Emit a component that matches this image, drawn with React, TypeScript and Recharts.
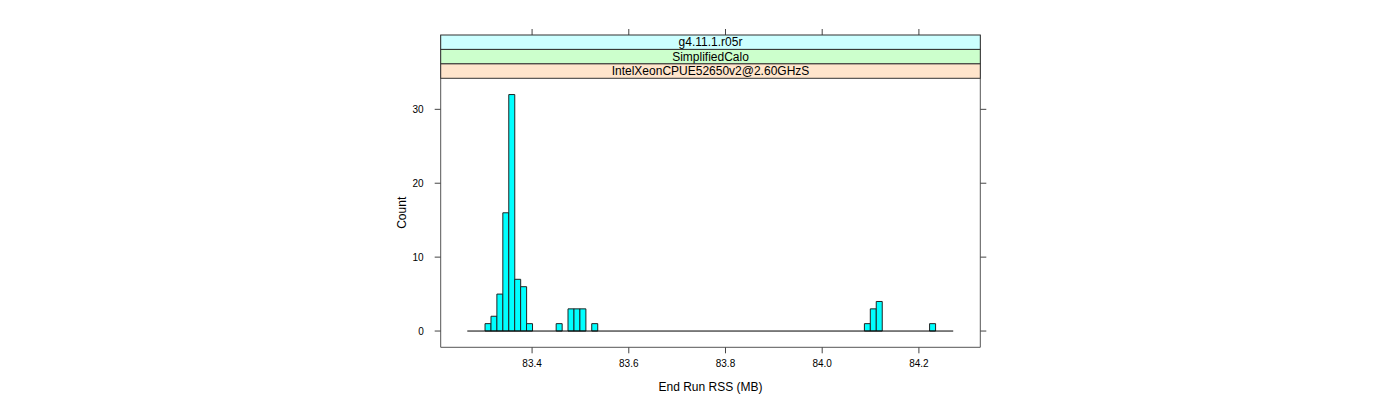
// Histogram of end-run RSS in the style of a lattice panel with three strips. Recharts.

import { Bar, ComposedChart, Label, ReferenceLine, XAxis, YAxis } from "recharts";

// bin mid-points (MB) of the non-empty bins and their counts
const binMid = [
  83.3088, 83.3211, 83.3333, 83.3456, 83.3579, 83.3701, 83.3824, 83.3946,
  83.4559, 83.4804, 83.4927, 83.505, 83.5295,
  84.0934, 84.1056, 84.1179, 84.2282,
];
const counts = [1, 2, 5, 16, 32, 7, 6, 1, 1, 3, 3, 3, 1, 1, 3, 4, 1];
const breaksRange = [83.266, 84.271];

const xTicks = [83.4, 83.6, 83.8, 84.0, 84.2];
const yTicks = [0, 10, 20, 30];
const xLim = [83.211, 84.327];
const yLim = [-2.2, 34.2];

const stripLabels = ["g4.11.1.r05r", "SimplifiedCalo", "IntelXeonCPUE52650v2@2.60GHzS"];
const stripColors = ["#CCFFFF", "#CCFFCC", "#FFE5CC"];

const W = 1400;
const H = 400;
const PANEL_L = 440.7;
const PANEL_R = 980.3;
const PANEL_T = 35;
const PANEL_B = 347.3;
const STRIP_H = 14.43;
const STRIPS = STRIP_H * stripLabels.length;
const TICK = 6;
const FONT = "'Liberation Sans', Arial, Helvetica, sans-serif";
const BOX = "#555";

// the strips sit inside the axis box, so the y domain is stretched upward by their height
const yPerPx = (yLim[1] - yLim[0]) / (PANEL_B - PANEL_T - STRIPS);
const yDomain = [yLim[0], yLim[1] + STRIPS * yPerPx];

const data = binMid.map((mid, i) => ({ mid, count: counts[i] }));

// tick marks without labels (right side)
const NoLabel = () => <g />;

function Strips() {
  const w = PANEL_R - PANEL_L;
  return (
    <svg
      width={W}
      height={H}
      style={{ position: "absolute", left: 0, top: 0, pointerEvents: "none" }}
    >
      {stripLabels.map((s, i) => {
        const y = PANEL_T + i * STRIP_H;
        return (
          <g key={s}>
            <rect x={PANEL_L} y={y} width={w} height={STRIP_H} fill={stripColors[i]} stroke="#333" strokeWidth={1} />
            <text
              x={PANEL_L + w / 2}
              y={y + STRIP_H / 2 + 4.2}
              textAnchor="middle"
              fontSize={12}
              fontFamily={FONT}
              fill="#000"
            >
              {s}
            </text>
          </g>
        );
      })}
    </svg>
  );
}

export default function App() {
  return (
    <div style={{ position: "absolute", left: 0, top: 0, width: W, height: H, background: "#fff" }}>
      <ComposedChart
        width={W}
        height={H}
        data={data}
        margin={{ top: PANEL_T, right: 0, bottom: 0, left: 0 }}
        barCategoryGap={0}
        barGap={0}
        style={{ fontFamily: FONT }}
      >
        <XAxis
          xAxisId="bottom"
          dataKey="mid"
          type="number"
          domain={xLim}
          ticks={xTicks}
          allowDataOverflow
          height={H - PANEL_B}
          tickSize={TICK}
          tickMargin={7}
          tickFormatter={(v: number) => v.toFixed(1)}
          tick={{ fontSize: 10, fill: "#000", fontFamily: FONT }}
          tickLine={{ stroke: "#444" }}
          axisLine={{ stroke: BOX }}
        >
          <Label value="End Run RSS (MB)" position="insideBottom" offset={9} fontSize={12} fill="#000" fontFamily={FONT} />
        </XAxis>
        <YAxis
          yAxisId="left"
          type="number"
          domain={yDomain}
          ticks={yTicks}
          allowDataOverflow
          width={PANEL_L}
          tickSize={TICK}
          tickMargin={11}
          tick={{ fontSize: 10, fill: "#000", fontFamily: FONT }}
          tickLine={{ stroke: "#444" }}
          axisLine={{ stroke: BOX }}
        >
          <Label
            content={(props: any) => {
              const vb = props.viewBox;
              const cx = vb.x + vb.width - 34.2;
              const cy = vb.y + STRIPS + (vb.height - STRIPS) / 2;
              return (
                <text
                  x={cx}
                  y={cy}
                  transform={`rotate(-90, ${cx}, ${cy})`}
                  textAnchor="middle"
                  fontSize={12}
                  fontFamily={FONT}
                  fill="#000"
                >
                  Count
                </text>
              );
            }}
          />
        </YAxis>
        <YAxis
          yAxisId="right"
          orientation="right"
          type="number"
          domain={yDomain}
          ticks={yTicks}
          allowDataOverflow
          width={W - PANEL_R}
          tickSize={TICK}
          tick={NoLabel}
          tickLine={{ stroke: "#444" }}
          axisLine={{ stroke: BOX }}
        />
        {/* top tick marks, above the strips */}
        {xTicks.map((t) => (
          <ReferenceLine
            key={t}
            xAxisId="bottom"
            yAxisId="left"
            ifOverflow="visible"
            segment={[
              { x: t, y: yDomain[1] },
              { x: t, y: yDomain[1] + TICK * yPerPx },
            ]}
            stroke="#444"
            strokeWidth={1}
          />
        ))}
        <ReferenceLine
          xAxisId="bottom"
          yAxisId="left"
          segment={[
            { x: breaksRange[0], y: 0 },
            { x: breaksRange[1], y: 0 },
          ]}
          stroke="#000"
          strokeWidth={1}
        />
        <Bar
          xAxisId="bottom"
          yAxisId="left"
          dataKey="count"
          fill="#00FFFF"
          stroke="#222"
          strokeWidth={1}
          isAnimationActive={false}
        />
      </ComposedChart>
      <Strips />
    </div>
  );
}
